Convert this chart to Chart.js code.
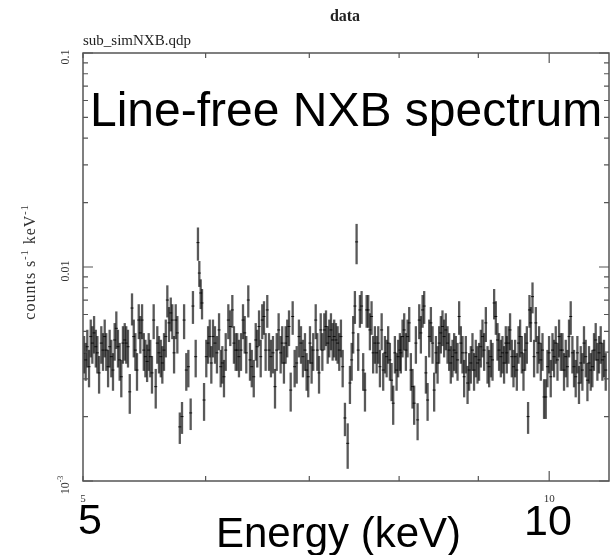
<!DOCTYPE html>
<html>
<head>
<meta charset="utf-8">
<script src="https://cdn.jsdelivr.net/npm/chart.js@4/dist/chart.umd.min.js"></script>
<style>
html,body{margin:0;padding:0;background:#fff;}
#wrap{width:610px;height:555px;}
</style>
</head>
<body>
<div id="wrap"><canvas id="c" width="610" height="555"></canvas></div>
<script>
// ---- data (energy in keV, counts s^-1 keV^-1, 1-sigma error) ----
const energy = [
5.008,5.020,5.032,5.045,5.058,5.070,5.083,5.096,5.108,5.121,
5.138,5.151,5.164,5.176,5.190,5.202,5.215,5.228,5.241,5.254,
5.267,5.280,5.293,5.306,5.320,5.332,5.346,5.360,5.378,5.392,
5.405,5.418,5.432,5.445,5.459,5.473,5.486,5.500,5.513,5.526,
5.540,5.554,5.571,5.584,5.598,5.613,5.626,5.640,5.655,5.668,
5.682,5.697,5.710,5.725,5.739,5.753,5.774,5.793,5.811,5.830,
5.848,
5.868,5.888,5.912,5.932,5.944,5.956,5.968,5.986,6.006,6.022,
6.037,6.051,6.066,6.084,6.102,6.121,6.136,6.151,6.166,6.182,
6.206,6.224,6.243,6.258,6.274,6.289,6.305,6.324,6.343,6.359,
6.374,6.393,6.409,6.426,6.445,6.464,6.479,6.496,6.512,6.527,
6.544,6.560,6.576,6.593,6.612,6.632,6.652,6.669,6.688,6.708,
6.724,6.741,6.758,6.774,6.792,6.809,6.829,6.849,
6.870,6.893,6.914,6.934,6.955,6.972,6.989,7.007,7.024,7.041,
7.067,7.084,7.102,7.120,7.137,7.158,7.176,7.194,7.211,7.229,
7.247,7.264,7.283,7.301,7.319,7.337,7.356,7.381,7.411,7.436,
7.455,7.472,7.491,7.510,7.528,7.547,7.566,7.584,7.604,7.623,
7.641,7.660,7.679,7.697,7.717,7.737,7.756,7.775,7.795,7.813,
7.833,7.853,7.871,7.891,7.911,7.930,7.950,7.970,7.989,8.009,
8.021,8.041,8.061,8.081,8.101,8.121,8.141,8.161,8.181,8.202,
8.223,8.243,8.263,8.284,8.304,8.325,8.346,8.366,8.387,8.408,
8.428,8.450,8.471,8.491,8.512,8.533,8.554,8.575,8.597,8.618,
8.639,8.661,8.682,8.704,8.726,8.747,8.769,8.791,8.812,8.834,
8.857,8.878,8.900,8.922,8.943,8.966,8.989,9.010,9.033,9.056,
9.078,9.101,9.124,9.146,9.169,9.192,9.214,9.237,9.260,9.282,
9.306,9.329,9.351,9.375,
9.389,9.413,9.435,9.459,9.483,9.506,9.530,9.554,9.577,9.601,
9.625,9.648,9.673,9.691,9.711,9.730,9.755,9.778,9.803,9.828,
9.851,9.876,9.901,9.924,9.949,9.974,9.998,10.023,10.049,10.073,
10.098,10.124,10.148,10.173,10.199,10.223,10.249,10.275,10.299,10.325,
10.351,10.376,10.402,10.428,10.453,10.480,10.506,10.531,10.558,10.585,
10.610,10.637,10.663,10.689,10.716,10.743,10.769,10.796,10.823,10.849,
10.877
];
const counts = [
0.00397,0.00368,0.00424,0.00342,0.00473,0.00441,0.00492,0.00424,0.00397,0.00320,
0.00441,0.00409,0.00473,0.00409,0.00342,0.00424,0.00381,0.00330,0.00456,0.00517,
0.00424,0.00368,0.00307,0.00441,0.00456,0.00441,0.00424,0.00261,0.00643,0.00473,
0.00409,0.00330,0.00565,0.00492,0.00565,0.00409,0.00381,0.00362,0.00409,0.00381,
0.00320,0.00565,0.00276,0.00441,0.00397,0.00381,0.00356,0.00409,0.00473,0.00701,
0.00548,0.00610,0.00565,0.00397,0.00565,0.00492,0.00179,0.00200,0.00565,0.00330,
0.00342,
0.00208,0.00657,0.00381,0.01300,0.00937,0.00756,0.00679,0.00239,0.00381,0.00441,
0.00473,0.00356,0.00473,0.00441,0.00397,0.00508,0.00342,0.00356,0.00307,0.00409,
0.00565,0.00527,0.00630,0.00441,0.00409,0.00409,0.00381,0.00409,0.00565,0.00492,
0.00397,0.00701,0.00368,0.00342,0.00307,0.00456,0.00424,0.00527,0.00381,0.00565,
0.00587,0.00409,0.00630,0.00409,0.00381,0.00397,0.00276,0.00409,0.00508,0.00397,
0.00441,0.00356,0.00441,0.00473,0.00527,0.00266,0.00587,0.00342,
0.00356,0.00473,0.00441,0.00381,0.00409,0.00330,0.00307,0.00441,0.00356,0.00409,
0.00565,0.00409,0.00320,0.00508,0.00409,0.00508,0.00527,0.00441,0.00473,0.00508,
0.00456,0.00473,0.00456,0.00441,0.00409,0.00473,0.00342,0.00197,0.00150,0.00287,
0.00368,0.00492,0.00657,0.01310,0.00409,0.00630,0.00657,0.00330,0.00266,0.00630,
0.00630,0.00508,0.00587,0.00397,0.00441,0.00397,0.00441,0.00342,0.00508,0.00330,
0.00397,0.00381,0.00441,0.00368,0.00296,0.00231,0.00397,0.00330,0.00381,0.00409,
0.00397,0.00473,0.00508,0.00409,0.00473,0.00548,0.00330,0.00276,0.00231,0.00441,
0.00193,0.00565,0.00492,0.00630,0.00657,0.00320,0.00239,0.00473,0.00548,0.00441,
0.00266,0.00397,0.00356,0.00441,0.00492,0.00527,0.00473,0.00508,0.00441,0.00409,
0.00356,0.00381,0.00409,0.00397,0.00368,0.00587,0.00441,0.00397,0.00307,0.00397,
0.00287,0.00330,0.00356,0.00409,0.00330,0.00381,0.00356,0.00368,0.00424,0.00473,
0.00409,0.00548,0.00356,0.00342,0.00381,0.00368,0.00679,0.00587,0.00456,0.00409,
0.00381,0.00397,0.00356,0.00441,
0.00397,0.00441,0.00508,0.00381,0.00342,0.00381,0.00330,0.00441,0.00473,0.00397,
0.00330,0.00409,0.00441,0.00200,0.00630,0.00548,0.00727,0.00381,0.00548,0.00397,
0.00441,0.00368,0.00409,0.00247,0.00247,0.00342,0.00397,0.00307,0.00409,0.00381,
0.00441,0.00368,0.00473,0.00409,0.00409,0.00330,0.00381,0.00342,0.00473,0.00587,
0.00397,0.00342,0.00307,0.00397,0.00287,0.00356,0.00330,0.00441,0.00381,0.00296,
0.00356,0.00330,0.00342,0.00409,0.00456,0.00368,0.00397,0.00441,0.00368,0.00381,
0.00330
];
const errors = [
0.00079,0.00074,0.00085,0.00068,0.00095,0.00088,0.00098,0.00085,0.00079,0.00064,
0.00088,0.00082,0.00095,0.00082,0.00068,0.00085,0.00076,0.00066,0.00091,0.00103,
0.00085,0.00074,0.00061,0.00088,0.00091,0.00088,0.00085,0.00055,0.00110,0.00095,
0.00082,0.00066,0.00105,0.00098,0.00105,0.00082,0.00076,0.00072,0.00082,0.00076,
0.00064,0.00105,0.00058,0.00088,0.00079,0.00076,0.00071,0.00082,0.00095,0.00120,
0.00102,0.00110,0.00105,0.00079,0.00105,0.00098,0.00030,0.00034,0.00105,0.00066,
0.00068,
0.00035,0.00115,0.00076,0.00230,0.00130,0.00120,0.00110,0.00048,0.00076,0.00088,
0.00095,0.00071,0.00095,0.00088,0.00079,0.00100,0.00068,0.00071,0.00061,0.00082,
0.00105,0.00100,0.00110,0.00088,0.00082,0.00082,0.00076,0.00082,0.00105,0.00098,
0.00079,0.00120,0.00074,0.00068,0.00061,0.00091,0.00085,0.00100,0.00076,0.00105,
0.00105,0.00082,0.00110,0.00082,0.00076,0.00079,0.00058,0.00082,0.00100,0.00079,
0.00088,0.00071,0.00088,0.00095,0.00100,0.00055,0.00105,0.00068,
0.00071,0.00095,0.00088,0.00076,0.00082,0.00066,0.00061,0.00088,0.00071,0.00082,
0.00105,0.00082,0.00064,0.00100,0.00082,0.00100,0.00100,0.00088,0.00095,0.00100,
0.00091,0.00095,0.00091,0.00088,0.00082,0.00095,0.00068,0.00035,0.00036,0.00058,
0.00074,0.00098,0.00115,0.00280,0.00082,0.00110,0.00115,0.00066,0.00055,0.00110,
0.00110,0.00100,0.00105,0.00079,0.00088,0.00079,0.00088,0.00068,0.00100,0.00066,
0.00079,0.00076,0.00088,0.00074,0.00060,0.00048,0.00079,0.00066,0.00076,0.00082,
0.00079,0.00095,0.00100,0.00082,0.00095,0.00102,0.00066,0.00058,0.00048,0.00088,
0.00038,0.00105,0.00098,0.00110,0.00115,0.00064,0.00048,0.00095,0.00102,0.00088,
0.00055,0.00079,0.00071,0.00088,0.00098,0.00100,0.00095,0.00100,0.00088,0.00082,
0.00071,0.00076,0.00082,0.00079,0.00074,0.00105,0.00088,0.00079,0.00061,0.00079,
0.00058,0.00066,0.00071,0.00082,0.00066,0.00076,0.00071,0.00074,0.00085,0.00095,
0.00082,0.00102,0.00071,0.00068,0.00076,0.00074,0.00110,0.00105,0.00091,0.00082,
0.00076,0.00079,0.00071,0.00088,
0.00079,0.00088,0.00100,0.00076,0.00068,0.00076,0.00066,0.00088,0.00095,0.00079,
0.00066,0.00082,0.00088,0.00034,0.00110,0.00102,0.00120,0.00076,0.00102,0.00079,
0.00088,0.00074,0.00082,0.00052,0.00052,0.00068,0.00079,0.00061,0.00082,0.00076,
0.00088,0.00074,0.00095,0.00082,0.00082,0.00066,0.00076,0.00068,0.00095,0.00105,
0.00079,0.00068,0.00061,0.00079,0.00058,0.00071,0.00066,0.00088,0.00076,0.00060,
0.00071,0.00066,0.00068,0.00082,0.00091,0.00074,0.00079,0.00088,0.00074,0.00076,
0.00066
];
// axis ticks
const xTicks = [5, 6, 7, 8, 9, 10];
const xMajor = [10];
const xTickLabels = [{v:5, t:'5'}, {v:10, t:'10'}];
const yTicks = [0.001,0.002,0.003,0.004,0.005,0.006,0.007,0.008,0.009,
                0.01,0.02,0.03,0.04,0.05,0.06,0.07,0.08,0.09,0.1];
const yMajor = [0.001, 0.01, 0.1];
const yTickLabels = [{v:0.1, t:'0.1'}, {v:0.01, t:'0.01'}, {v:0.001, t:'10', sup:'-3'}];

const SERIF = '"Liberation Serif","DejaVu Serif",serif';
const SANS = '"Liberation Sans",Arial,sans-serif';

const decor = {
  id: 'decor',
  afterDatasetsDraw(chart) {
    const ctx = chart.ctx;
    const xs = chart.scales.x, ys = chart.scales.y;
    const a = chart.chartArea;
    ctx.save();
    // error bars
    ctx.beginPath();
    ctx.rect(a.left, a.top, a.right - a.left, a.bottom - a.top);
    ctx.clip();
    ctx.strokeStyle = 'rgba(10,10,10,0.68)';
    ctx.lineWidth = 2.3;
    for (let i = 0; i < energy.length; i++) {
      const px = xs.getPixelForValue(energy[i]);
      const top = ys.getPixelForValue(counts[i] + errors[i]);
      const bot = ys.getPixelForValue(Math.max(counts[i] - errors[i], 1e-4));
      ctx.beginPath();
      ctx.moveTo(px, top);
      ctx.lineTo(px, bot);
      ctx.stroke();
    }
    ctx.strokeStyle = 'rgba(0,0,0,0.85)';
    ctx.lineWidth = 1;
    for (let i = 0; i < energy.length; i++) {
      const px = xs.getPixelForValue(energy[i]);
      const py = ys.getPixelForValue(counts[i]);
      ctx.beginPath();
      ctx.moveTo(px - 1.5, py);
      ctx.lineTo(px + 1.5, py);
      ctx.stroke();
    }
    ctx.restore();

    ctx.save();
    // frame
    ctx.strokeStyle = '#555';
    ctx.lineWidth = 1.5;
    ctx.strokeRect(a.left, a.top, a.right - a.left, a.bottom - a.top);
    // ticks
    ctx.lineWidth = 1.2;
    ctx.beginPath();
    for (const v of yTicks) {
      const py = ys.getPixelForValue(v);
      const len = yMajor.includes(v) ? 10 : 5;
      ctx.moveTo(a.left, py); ctx.lineTo(a.left + len, py);
      ctx.moveTo(a.right, py); ctx.lineTo(a.right - len, py);
    }
    for (const v of xTicks) {
      const px = xs.getPixelForValue(v);
      const len = xMajor.includes(v) ? 10 : 5;
      ctx.moveTo(px, a.bottom); ctx.lineTo(px, a.bottom - len);
      ctx.moveTo(px, a.top); ctx.lineTo(px, a.top + len);
    }
    ctx.stroke();

    // y tick labels (rotated)
    ctx.fillStyle = '#333';
    for (const l of yTickLabels) {
      const py = ys.getPixelForValue(l.v) + 4;
      ctx.save();
      ctx.translate(66, py);
      ctx.rotate(-Math.PI / 2);
      ctx.textBaseline = 'middle';
      ctx.font = '12px ' + SERIF;
      if (l.sup) {
        ctx.textAlign = 'left';
        const w1 = ctx.measureText(l.t).width;
        ctx.font = '8px ' + SERIF;
        const w2 = ctx.measureText(l.sup).width;
        const x0 = -(w1 + w2) / 2;
        ctx.font = '12px ' + SERIF;
        ctx.fillText(l.t, x0, 0);
        ctx.font = '8px ' + SERIF;
        ctx.fillText(l.sup, x0 + w1, -5);
      } else {
        ctx.textAlign = 'center';
        ctx.fillText(l.t, 0, 0);
      }
      ctx.restore();
    }
    // x tick labels (small)
    ctx.font = '11px ' + SERIF;
    ctx.textAlign = 'center';
    ctx.textBaseline = 'alphabetic';
    for (const l of xTickLabels) {
      ctx.fillText(l.t, xs.getPixelForValue(l.v), 502);
    }
    // y axis title
    ctx.save();
    ctx.translate(31, 262);
    ctx.rotate(-Math.PI / 2);
    ctx.textBaseline = 'middle';
    ctx.letterSpacing = '1px';
    const parts = [['counts s', 16, 0], ['-1', 10, -6], [' keV', 16, 0], ['-1', 10, -6]];
    let total = 0;
    for (const p of parts) { ctx.font = p[1] + 'px ' + SERIF; total += ctx.measureText(p[0]).width; }
    let cx = -total / 2;
    ctx.textAlign = 'left';
    for (const p of parts) {
      ctx.font = p[1] + 'px ' + SERIF;
      ctx.fillText(p[0], cx, p[2]);
      cx += ctx.measureText(p[0]).width;
    }
    ctx.restore();

    // header texts
    ctx.fillStyle = '#222';
    ctx.font = 'bold 16px ' + SERIF;
    ctx.textAlign = 'center';
    ctx.fillText('data', 345, 21);
    ctx.font = '15px ' + SERIF;
    ctx.textAlign = 'left';
    ctx.fillText('sub_simNXB.qdp', 83, 45);

    // large overlay texts
    ctx.fillStyle = '#000';
    ctx.font = '48px ' + SANS;
    ctx.textAlign = 'left';
    ctx.fillText('Line-free NXB spectrum', 90, 126);
    ctx.font = '43px ' + SANS;
    ctx.textAlign = 'center';
    ctx.fillText('5', 90, 534);
    ctx.fillText('10', 548, 535);
    ctx.font = '42px ' + SANS;
    ctx.textAlign = 'left';
    ctx.fillText('Energy (keV)', 216, 547);
    ctx.restore();
  }
};

new Chart(document.getElementById('c'), {
  type: 'scatter',
  data: {
    datasets: [{
      label: 'data',
      data: energy.map((e, i) => ({x: e, y: counts[i]})),
      pointRadius: 0,
      showLine: false
    }]
  },
  options: {
    responsive: false,
    animation: false,
    devicePixelRatio: 1,
    layout: {padding: {left: 83, top: 53, right: 1, bottom: 74}},
    plugins: {legend: {display: false}, tooltip: {enabled: false}, title: {display: false}},
    scales: {
      x: {type: 'logarithmic', min: 5, max: 10.93, display: false},
      y: {type: 'logarithmic', min: 0.001, max: 0.1, display: false}
    }
  },
  plugins: [decor]
});
</script>
</body>
</html>
